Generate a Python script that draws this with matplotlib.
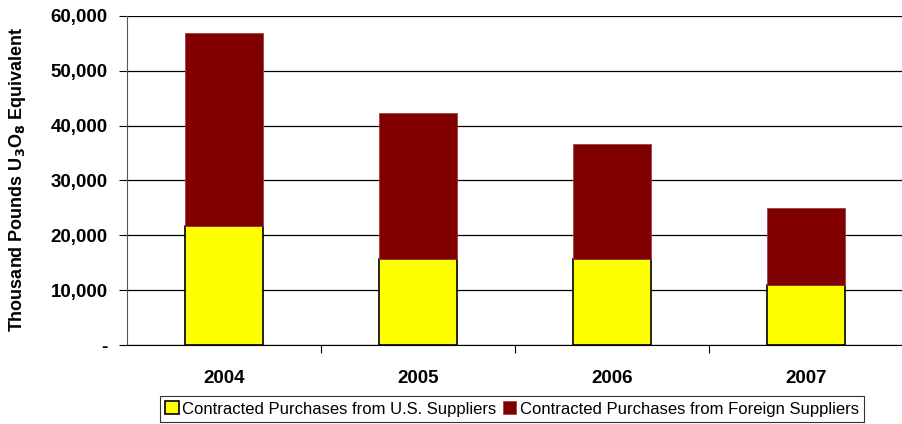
import matplotlib.pyplot as plt
import numpy as np

plt.rcParams['font.family'] = ['Liberation Sans', 'DejaVu Sans']

years = ["2004", "2005", "2006", "2007"]
us_suppliers = [21700, 15700, 15700, 10900]
foreign_suppliers = [35200, 26600, 21000, 14100]
y_ticks = [0, 10000, 20000, 30000, 40000, 50000, 60000]
y_tick_labels = ["-", "10,000", "20,000", "30,000", "40,000", "50,000", "60,000"]

fig = plt.figure(figsize=(9.03, 4.24), dpi=100)
ax = fig.add_axes([127 / 903, 1 - 345 / 424, 1 - 127 / 903, (345 - 16) / 424])

x = np.arange(len(years))
ax.bar(x, us_suppliers, width=0.4, color="#ffff00", edgecolor="black",
       linewidth=1.2, zorder=3, label="Contracted Purchases from U.S. Suppliers")
ax.bar(x, foreign_suppliers, bottom=us_suppliers, width=0.4, color="#800000",
       edgecolor="#a04040", linewidth=0.6, zorder=3,
       label="Contracted Purchases from Foreign Suppliers")

ax.set_xlim(-0.5, 3.5)
ax.set_ylim(0, 60000)
ax.set_yticks(y_ticks)
ax.set_yticklabels(y_tick_labels, fontsize=13.5, fontweight="bold")
ax.yaxis.grid(True, color="black", linewidth=0.9, zorder=0)
ax.set_axisbelow(True)

ax.set_xticks([0.5, 1.5, 2.5])
ax.set_xticklabels([])
ax.set_xticks(x, minor=True)
ax.set_xticklabels(years, minor=True, fontsize=13.5, fontweight="bold")
ax.tick_params(axis="x", which="major", length=6, direction="out")
ax.tick_params(axis="x", which="minor", length=0, pad=18)
ax.tick_params(axis="y", length=6, direction="out", pad=8)

for side in ["top", "right"]:
    ax.spines[side].set_visible(False)
ax.spines["left"].set_color("#555555")
ax.spines["bottom"].set_color("black")

ax.set_ylabel("Thousand Pounds U$_\\mathbf{3}$O$_\\mathbf{8}$ Equivalent",
              fontsize=13, fontweight="bold")
ax.yaxis.set_label_coords(-0.128, 0.505)

leg = fig.legend(loc="lower center", bbox_to_anchor=(0.567, -0.014), ncol=2,
                 fontsize=12, frameon=True, fancybox=False, edgecolor="black",
                 handlelength=0.8, handleheight=0.8, handletextpad=0.2,
                 columnspacing=0.4, borderpad=0.3)
leg.get_frame().set_linewidth(0.8)

fig.savefig("out.png", dpi=100)
